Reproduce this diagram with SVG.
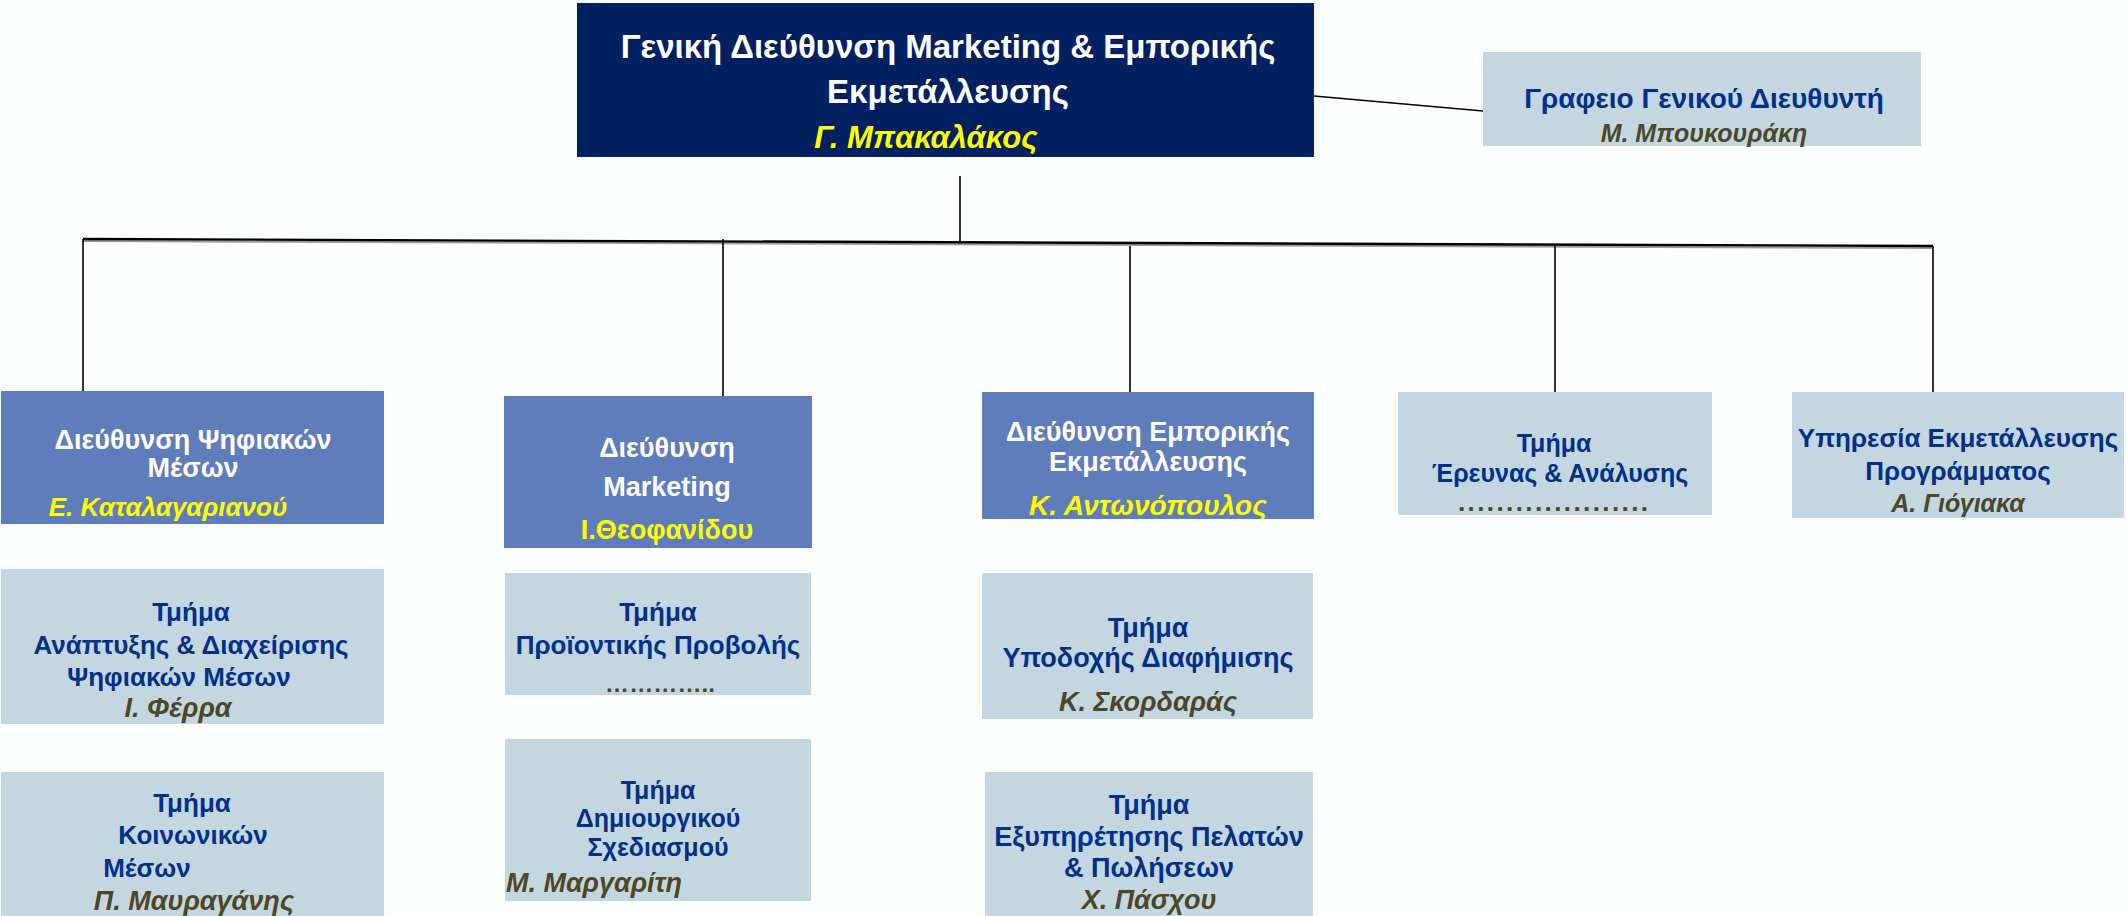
<svg xmlns="http://www.w3.org/2000/svg" width="2127" height="916" viewBox="0 0 2127 916">
<style>
.bg{fill:#fdfefe}
.top{fill:#002060}
.mid{fill:#5f7dba}
.lt{fill:#c4d6df}
text{font-family:"Liberation Sans","Noto Sans",sans-serif;font-weight:bold;text-anchor:middle;dominant-baseline:central}
.w{fill:#ffffff}
.y{fill:#ffff00;font-style:italic}
.n{fill:#00308a}
.o{fill:#4d4729;font-style:italic}
.d{fill:#4d4729}
.ln{stroke:#000;stroke-width:1.6;fill:none}
</style>
<rect class="bg" x="0" y="0" width="2127" height="916"/>
<g id="connectors">
<line class="ln" x1="1314" y1="96" x2="1483" y2="111"/>
<line class="ln" x1="960" y1="176" x2="960" y2="241"/>
<line x1="83" y1="241" x2="1933" y2="248" stroke="#9a9a9a" stroke-width="2"/>
<line x1="83" y1="239" x2="1933" y2="246" stroke="#000" stroke-width="2.4"/>
<line class="ln" x1="83" y1="239" x2="83" y2="396"/>
<line class="ln" x1="723" y1="239" x2="723" y2="400"/>
<line class="ln" x1="1130" y1="246" x2="1130" y2="392"/>
<line class="ln" x1="1555" y1="246" x2="1555" y2="392"/>
<line class="ln" x1="1933" y1="246" x2="1933" y2="392"/>
</g>
<g id="gen-dir">
<rect class="top" x="577" y="3" width="737" height="154"/>
<text class="w" x="948" y="46" font-size="33">Γενική Διεύθυνση Marketing &amp; Εμπορικής</text>
<text class="w" x="948" y="91" font-size="33">Εκμετάλλευσης</text>
<text class="y" x="926" y="137" font-size="31">Γ. Μπακαλάκος</text>
</g>
<g id="office">
<rect class="lt" x="1483" y="52" width="438" height="94"/>
<text class="n" x="1704" y="98" font-size="28">Γραφειο Γενικού Διευθυντή</text>
<text class="o" x="1704" y="133" font-size="25">Μ. Μπουκουράκη</text>
</g>
<g id="digital">
<rect class="mid" x="1" y="391" width="383" height="133"/>
<text class="w" x="193" y="440" font-size="27">Διεύθυνση Ψηφιακών</text>
<text class="w" x="193" y="468" font-size="27">Μέσων</text>
<text class="y" x="168" y="507" font-size="26">Ε. Καταλαγαριανού</text>
</g>
<g id="marketing">
<rect class="mid" x="504" y="396" width="308" height="152"/>
<text class="w" x="667" y="448" font-size="27">Διεύθυνση</text>
<text class="w" x="667" y="487" font-size="27">Marketing</text>
<text class="y" x="667" y="530" font-size="27" style="font-style:normal">Ι.Θεοφανίδου</text>
</g>
<g id="commercial">
<rect class="mid" x="982" y="392" width="332" height="127"/>
<text class="w" x="1148" y="432" font-size="27">Διεύθυνση Εμπορικής</text>
<text class="w" x="1148" y="462" font-size="27">Εκμετάλλευσης</text>
<text class="y" x="1148" y="505" font-size="28">Κ. Αντωνόπουλος</text>
</g>
<g id="research">
<rect class="lt" x="1398" y="392" width="314" height="123"/>
<text class="n" x="1554" y="443" font-size="25">Τμήμα</text>
<text class="n" x="1560" y="473" font-size="25">Έρευνας &amp; Ανάλυσης</text>
<text class="d" x="1553" y="502" font-size="26" textLength="190" lengthAdjust="spacing">....................</text>
</g>
<g id="program">
<rect class="lt" x="1792" y="392" width="332" height="126"/>
<text class="n" x="1958" y="438" font-size="26">Υπηρεσία Εκμετάλλευσης</text>
<text class="n" x="1958" y="471" font-size="26">Προγράμματος</text>
<text class="o" x="1958" y="503" font-size="25">Α. Γιόγιακα</text>
</g>
<g id="dev-digital">
<rect class="lt" x="1" y="569" width="383" height="155"/>
<text class="n" x="191" y="612" font-size="26">Τμήμα</text>
<text class="n" x="191" y="645" font-size="26">Ανάπτυξης &amp; Διαχείρισης</text>
<text class="n" x="179" y="677" font-size="26">Ψηφιακών Μέσων</text>
<text class="o" x="178" y="708" font-size="27">Ι. Φέρρα</text>
</g>
<g id="social">
<rect class="lt" x="1" y="772" width="383" height="144"/>
<text class="n" x="192" y="803" font-size="26">Τμήμα</text>
<text class="n" x="193" y="835" font-size="26">Κοινωνικών</text>
<text class="n" x="147" y="868" font-size="26">Μέσων</text>
<text class="o" x="194" y="901" font-size="27">Π. Μαυραγάνης</text>
</g>
<g id="product">
<rect class="lt" x="505" y="573" width="306" height="122"/>
<text class="n" x="658" y="612" font-size="26">Τμήμα</text>
<text class="n" x="658" y="645" font-size="26">Προϊοντικής Προβολής</text>
<text class="d" x="660" y="683" font-size="24" textLength="110" lengthAdjust="spacing">…………..</text>
</g>
<g id="creative">
<rect class="lt" x="505" y="739" width="306" height="162"/>
<text class="n" x="658" y="790" font-size="25">Τμήμα</text>
<text class="n" x="658" y="818" font-size="25">Δημιουργικού</text>
<text class="n" x="658" y="847" font-size="25">Σχεδιασμού</text>
<text class="o" x="594" y="883" font-size="27">Μ. Μαργαρίτη</text>
</g>
<g id="ads">
<rect class="lt" x="982" y="573" width="331" height="146"/>
<text class="n" x="1148" y="628" font-size="27">Τμήμα</text>
<text class="n" x="1148" y="658" font-size="27">Υποδοχής Διαφήμισης</text>
<text class="o" x="1148" y="702" font-size="27">Κ. Σκορδαράς</text>
</g>
<g id="customers">
<rect class="lt" x="985" y="772" width="328" height="144"/>
<text class="n" x="1149" y="805" font-size="27">Τμήμα</text>
<text class="n" x="1149" y="837" font-size="27">Εξυπηρέτησης Πελατών</text>
<text class="n" x="1149" y="868" font-size="27">&amp; Πωλήσεων</text>
<text class="o" x="1149" y="900" font-size="27">Χ. Πάσχου</text>
</g>
</svg>
